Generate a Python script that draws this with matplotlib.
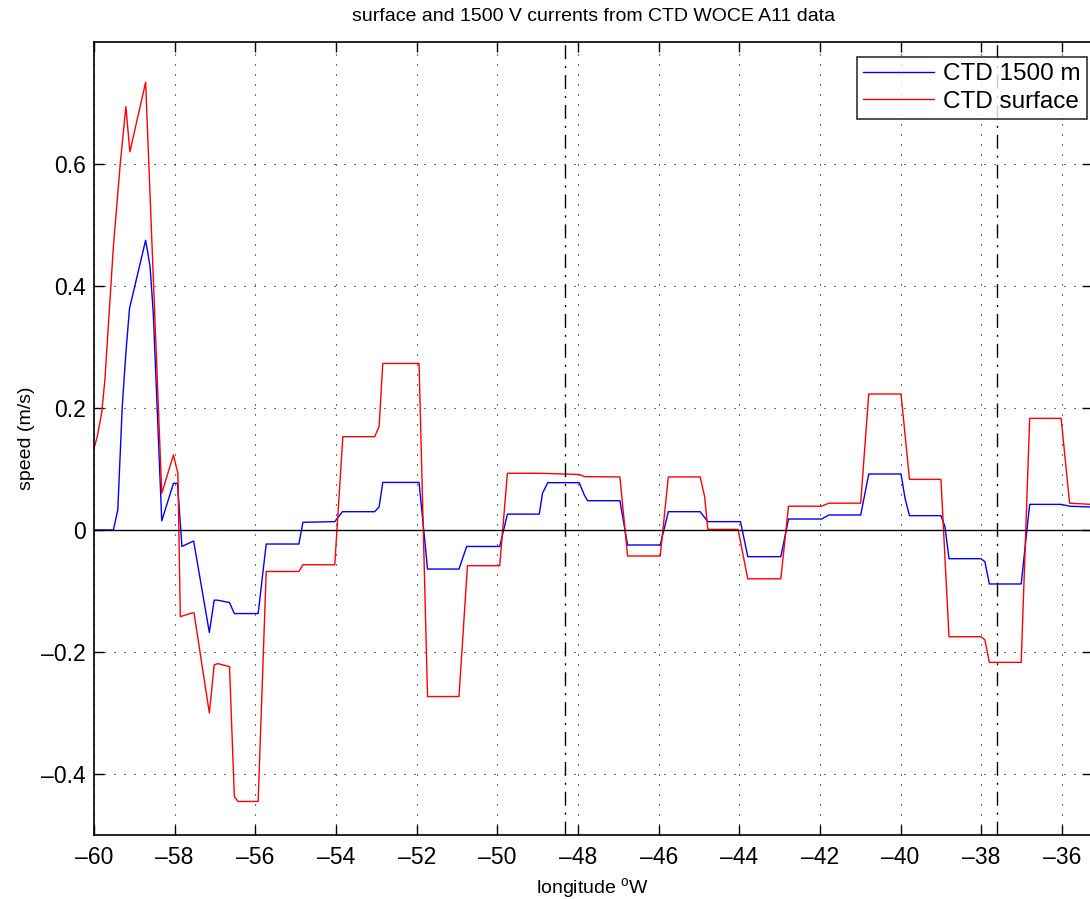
import numpy as np
import matplotlib
matplotlib.use('Agg')
import matplotlib.pyplot as plt

plt.rcParams['font.family'] = ['Liberation Sans', 'DejaVu Sans']

# CTD surface speed
lon_surf = [-60.00, -59.92, -59.81, -59.73, -59.52, -59.35, -59.21, -59.11, -58.72,
            -58.32, -58.03, -57.92, -57.86, -57.57, -57.52, -57.14, -57.02, -56.93,
            -56.64, -56.52, -56.43, -55.93, -55.73, -54.92, -54.82, -54.03, -53.83,
            -53.04, -52.93, -52.84, -51.94, -51.73, -50.95, -50.74, -49.94, -49.75,
            -48.96, -47.97, -47.84, -46.96, -46.77, -45.96, -45.76, -44.97, -44.86,
            -44.78, -44.03, -43.79, -42.97, -42.78, -41.96, -41.78, -40.99, -40.79,
            -39.99, -39.78, -39.00, -38.80, -38.01, -37.91, -37.80, -37.01, -36.80,
            -36.02, -35.81, -35.00]
v_surf = [0.134, 0.153, 0.192, 0.246, 0.464, 0.600, 0.694, 0.620, 0.734,
          0.060, 0.123, 0.093, -0.142, -0.136, -0.136, -0.300, -0.221, -0.219,
          -0.224, -0.437, -0.445, -0.445, -0.068, -0.068, -0.057, -0.057, 0.153,
          0.153, 0.170, 0.273, 0.273, -0.273, -0.273, -0.0585, -0.0585, 0.093,
          0.093, 0.091, 0.0875, 0.087, -0.0426, -0.0426, 0.087, 0.087, 0.055,
          0.001, 0.001, -0.080, -0.080, 0.039, 0.039, 0.044, 0.044, 0.223,
          0.223, 0.083, 0.083, -0.175, -0.175, -0.180, -0.217, -0.217, 0.183,
          0.183, 0.044, 0.041]

# CTD 1500 m speed
lon_deep = [-60.00, -59.52, -59.41, -59.30, -59.21, -59.12, -58.72, -58.61, -58.53,
            -58.32, -58.03, -57.93, -57.82, -57.53, -57.14, -57.02, -56.94, -56.64,
            -56.52, -55.93, -55.73, -54.92, -54.82, -54.03, -53.84, -53.04, -52.93,
            -52.84, -51.94, -51.73, -50.95, -50.76, -49.94, -49.75, -48.96, -48.88,
            -48.75, -47.97, -47.84, -47.76, -46.96, -46.77, -45.96, -45.76, -44.97,
            -44.78, -43.97, -43.79, -42.97, -42.78, -41.96, -41.78, -40.99, -40.79,
            -39.99, -39.89, -39.78, -39.00, -38.90, -38.80, -38.01, -37.91, -37.80,
            -37.01, -36.80, -36.02, -35.81, -35.00]
v_deep = [0.0, 0.0, 0.033, 0.202, 0.290, 0.363, 0.475, 0.432, 0.355,
          0.015, 0.0765, 0.0765, -0.027, -0.018, -0.168, -0.115, -0.115, -0.119,
          -0.137, -0.137, -0.023, -0.023, 0.0126, 0.0137, 0.030, 0.030, 0.038,
          0.078, 0.078, -0.064, -0.064, -0.027, -0.027, 0.026, 0.026, 0.060,
          0.0776, 0.0776, 0.057, 0.048, 0.048, -0.0246, -0.0246, 0.030, 0.030,
          0.0137, 0.0137, -0.0437, -0.0437, 0.018, 0.018, 0.0246, 0.0246, 0.0918,
          0.0918, 0.052, 0.0235, 0.0235, 0.0055, -0.047, -0.047, -0.052, -0.0885,
          -0.0885, 0.042, 0.042, 0.039, 0.037]

vlines = [-48.33, -37.61]

fig = plt.figure(figsize=(10.9, 8.99), dpi=100)
ax = fig.add_axes([94 / 1090, 1 - 835 / 899, 1.0 - 94 / 1090 + 0.002, (835 - 42) / 899])

ax.plot(lon_deep, v_deep, color='b', lw=1.0, label='CTD 1500 m')
ax.plot(lon_surf, v_surf, color='r', lw=1.0, label='CTD surface')
ax.axhline(0, color='k', lw=1.0)
for xv in vlines:
    ax.axvline(xv, color='k', lw=1.0, ls=(0, (10, 5, 1.5, 5)))

ax.set_xlim(-60, -35.25)
ax.set_ylim(-0.5, 0.8)
ax.set_xticks(np.arange(-60, -35, 2))
ax.set_yticks([-0.4, -0.2, 0, 0.2, 0.4, 0.6])
ax.set_xticklabels(['\u2013%d' % abs(t) for t in range(-60, -35, 2)])
ax.set_yticklabels(['\u20130.4', '\u20130.2', '0', '0.2', '0.4', '0.6'])
ax.grid(True, color='k', ls=(0, (1, 8)), lw=0.8)
ax.tick_params(direction='in', top=True, right=True, length=7, width=1, labelsize=16.5)
ax.tick_params(axis='y', pad=6)
ax.tick_params(axis='x', pad=8)
for s in ax.spines.values():
    s.set_linewidth(1.2)

ax.set_title('surface and 1500 V currents from CTD WOCE A11 data', fontsize=14, pad=15)
ax.set_xlabel('longitude $^{\\mathregular{o}}$W', fontsize=14, labelpad=5)
ax.set_ylabel('speed (m/s)', fontsize=14, labelpad=4)

leg = ax.legend(loc='upper right', bbox_to_anchor=(0.995, 0.981), fontsize=17.5, frameon=True,
                fancybox=False, edgecolor='k', handlelength=2.9, borderpad=0.26,
                labelspacing=0.23, handletextpad=0.4, borderaxespad=0)
leg.get_frame().set_linewidth(1.2)

fig.savefig('out.png', dpi=100)
